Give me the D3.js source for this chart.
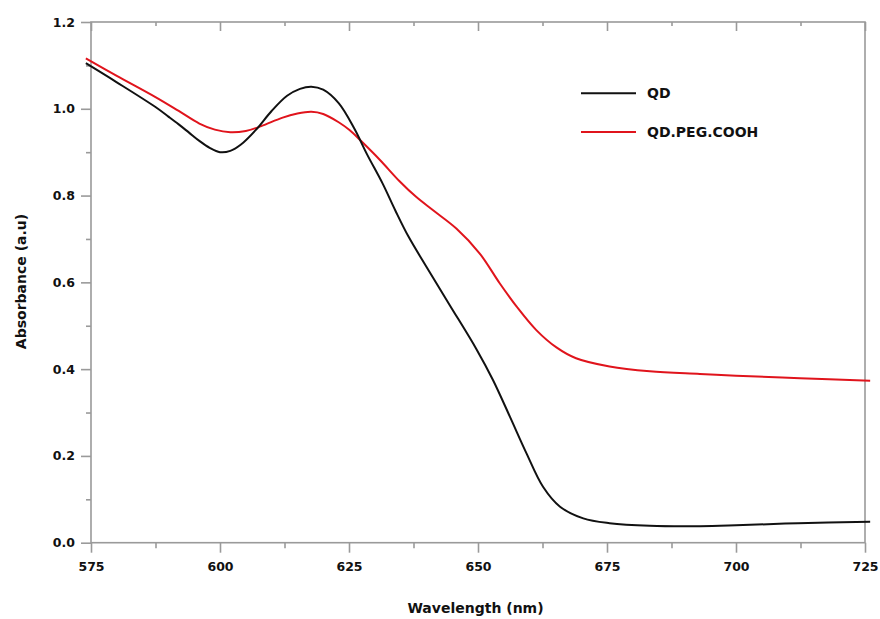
<!DOCTYPE html>
<html>
<head>
<meta charset="utf-8">
<script src="https://cdn.jsdelivr.net/npm/d3@7"></script>
<style>
  html, body { margin: 0; padding: 0; background: #fff; }
  svg { display: block; }
  text { font-family: "DejaVu Sans", Verdana, sans-serif; font-weight: bold; fill: #111; }
</style>
</head>
<body>
<svg id="chart" width="880" height="619"></svg>
<script>
// ---- data ----
const qdWavelength = [574, 580, 587.5, 590, 592, 594, 596, 598, 600, 602, 604, 607, 610, 613, 615.5, 617.7, 620, 623, 626, 628.5, 631.5, 634, 636.5, 640, 644.5, 649.7, 652.9, 656.2, 659.4, 662.6, 665.9, 670.4, 675.5, 683.3, 693, 700, 712, 726];
const qdAbsorbance = [1.105, 1.061, 1.004, 0.982, 0.964, 0.945, 0.926, 0.910, 0.900, 0.903, 0.917, 0.952, 0.995, 1.030, 1.046, 1.051, 1.044, 1.013, 0.955, 0.895, 0.828, 0.765, 0.706, 0.636, 0.548, 0.446, 0.375, 0.290, 0.206, 0.129, 0.083, 0.056, 0.045, 0.039, 0.038, 0.040, 0.045, 0.048];

const pegWavelength = [574, 580, 587.5, 592, 596, 599, 602, 605, 608, 612, 615, 617.7, 620, 623, 625.1, 627.4, 631, 634.8, 638, 641.3, 645.8, 650.3, 654.2, 657.5, 661.3, 665.2, 669, 675.5, 683.3, 693, 700, 712.4, 726];
const pegAbsorbance = [1.116, 1.076, 1.027, 0.995, 0.966, 0.952, 0.946, 0.949, 0.960, 0.979, 0.989, 0.993, 0.988, 0.969, 0.951, 0.925, 0.882, 0.833, 0.797, 0.766, 0.724, 0.667, 0.598, 0.544, 0.490, 0.450, 0.425, 0.406, 0.395, 0.389, 0.385, 0.379, 0.373];

const seriesNames = ["QD", "QD.PEG.COOH"];
const seriesColors = ["#111111", "#e0141c"];
const xMajorTicks = [575, 600, 625, 650, 675, 700, 725];
const xMinorTicks = [587.5, 612.5, 637.5, 662.5, 687.5, 712.5];
const yMajorTicks = [0.0, 0.2, 0.4, 0.6, 0.8, 1.0, 1.2];
const yMinorTicks = [0.1, 0.3, 0.5, 0.7, 0.9, 1.1];
const xTitle = "Wavelength (nm)";
const yTitle = "Absorbance (a.u)";

// ---- layout ----
const L = 91, R = 865, T = 22, B = 542.7;
const svg = d3.select("#chart");
const x = d3.scaleLinear().domain([575, 725]).range([L, R]);
const y = d3.scaleLinear().domain([0, 1.2]).range([B, T]);
const axisColor = "#9a9a9a";

// frame
svg.append("rect").attr("x", L).attr("y", T).attr("width", R - L).attr("height", B - T)
  .attr("fill", "none").attr("stroke", axisColor).attr("stroke-width", 1.6);

function styleAxis(g) {
  g.select(".domain").remove();
  g.selectAll(".tick line").attr("stroke", axisColor).attr("stroke-width", 1.6);
  g.selectAll(".tick text").style("font-size", "12.5px").attr("fill", "#111");
}

const gx = svg.append("g").attr("transform", `translate(0,${B})`)
  .call(d3.axisBottom(x).tickValues(xMajorTicks).tickSize(10).tickPadding(9).tickFormat(d3.format("d")));
styleAxis(gx);
const gxm = svg.append("g").attr("transform", `translate(0,${B})`)
  .call(d3.axisBottom(x).tickValues(xMinorTicks).tickSize(5.5).tickFormat(""));
styleAxis(gxm);
const gxt = svg.append("g").attr("transform", `translate(0,${T})`)
  .call(d3.axisBottom(x).tickValues(xMajorTicks).tickSize(9).tickFormat(""));
styleAxis(gxt);
const gxtm = svg.append("g").attr("transform", `translate(0,${T})`)
  .call(d3.axisBottom(x).tickValues(xMinorTicks).tickSize(4).tickFormat(""));
styleAxis(gxtm);

const gy = svg.append("g").attr("transform", `translate(${L},0)`)
  .call(d3.axisLeft(y).tickValues(yMajorTicks).tickSize(10).tickPadding(6).tickFormat(d3.format(".1f")));
styleAxis(gy);
const gym = svg.append("g").attr("transform", `translate(${L},0)`)
  .call(d3.axisLeft(y).tickValues(yMinorTicks).tickSize(5).tickFormat(""));
styleAxis(gym);

// lines
const line = d3.line().x(d => x(d[0])).y(d => y(d[1])).curve(d3.curveCatmullRom.alpha(0.5));
const series = [
  d3.zip(qdWavelength, qdAbsorbance),
  d3.zip(pegWavelength, pegAbsorbance)
];
[1, 0].forEach(i => {
  svg.append("path").datum(series[i]).attr("d", line)
    .attr("fill", "none").attr("stroke", seriesColors[i]).attr("stroke-width", 2)
    .attr("stroke-linejoin", "round");
});

// legend
const legendY = [93.3, 132];
seriesNames.forEach((name, i) => {
  svg.append("line").attr("x1", 581).attr("x2", 636).attr("y1", legendY[i]).attr("y2", legendY[i])
    .attr("stroke", seriesColors[i]).attr("stroke-width", 2);
  svg.append("text").attr("x", 647).attr("y", legendY[i]).attr("dy", "0.36em")
    .style("font-size", "14px").text(name);
});

// titles
svg.append("text").attr("x", 475.5).attr("y", 613).attr("text-anchor", "middle")
  .style("font-size", "14px").text(xTitle);
svg.append("text").attr("transform", "translate(26,281.5) rotate(-90)").attr("text-anchor", "middle")
  .style("font-size", "14px").text(yTitle);
</script>
</body>
</html>
